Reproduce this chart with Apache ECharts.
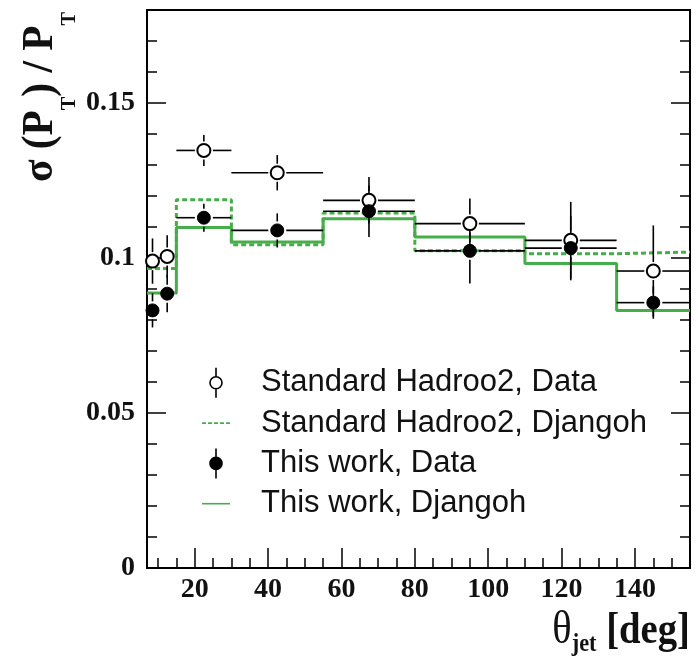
<!DOCTYPE html>
<html><head><meta charset="utf-8">
<script src="https://cdn.jsdelivr.net/npm/echarts@6/dist/echarts.min.js"></script>
<style>html,body{margin:0;padding:0;background:#fff}#c{width:698px;height:658px}</style>
</head><body><div id="c"></div>
<script>
// ---- data ----
const binEdges   = [7, 10, 15, 30, 55, 80, 110, 135, 155];
const binCenters = [8.5, 12.5, 22.5, 42.5, 67.5, 95, 122.5, 145];
const stdData    = [0.0990, 0.1005, 0.1347, 0.1275, 0.1186, 0.1111, 0.1057, 0.0958];
const stdErr     = [0.0073, 0.0068, 0.0050, 0.0057, 0.0075, 0.0081, 0.0124, 0.0147];
const twData     = [0.0831, 0.0885, 0.1130, 0.1089, 0.1151, 0.1023, 0.1032, 0.0856];
const twErr      = [0.0055, 0.0060, 0.0045, 0.0055, 0.0083, 0.0105, 0.0104, 0.0052];
const stdDjangoh = [0.0966, 0.0966, 0.1188, 0.1043, 0.1145, 0.1023, 0.1014, 0.1019];
const twDjangoh  = [0.0887, 0.0887, 0.1098, 0.1052, 0.1127, 0.1068, 0.0982, 0.0831];
const xMajorTicks = [20, 40, 60, 80, 100, 120, 140];
const xMinorTicks = [10, 15, 25, 30, 35, 45, 50, 55, 65, 70, 75, 85, 90, 95, 105, 110, 115, 125, 130, 135, 145, 150];
const yMajorTicks = [0, 0.05, 0.1, 0.15];
const yMinorTicks = [0.01, 0.02, 0.03, 0.04, 0.06, 0.07, 0.08, 0.09, 0.11, 0.12, 0.13, 0.14, 0.16, 0.17];
const names = ['Standard Hadroo2, Data', 'Standard Hadroo2, Djangoh', 'This work, Data', 'This work, Djangoh'];

const GREEN = '#46ad4a';
const chart = echarts.init(document.getElementById('c'), null, {renderer: 'canvas'});

function stepData(vals) {
  return binEdges.map((e, i) => [e, vals[Math.min(i, vals.length - 1)]]);
}
function errData(vals, errs) {
  return binCenters.map((x, i) => [x, vals[i], binEdges[i], binEdges[i + 1], errs[i]]);
}
function errRender(params, api) {
  const x = api.value(0), y = api.value(1);
  const xl = api.value(2), xh = api.value(3), e = api.value(4);
  const c = api.coord([x, y]);
  const pl = api.coord([xl, y]), ph = api.coord([xh, y]);
  const pt = api.coord([x, y + e]), pb = api.coord([x, y - e]);
  const g = 9;
  const st = {stroke: '#000', lineWidth: 1.6};
  const ch = [];
  if (c[0] - pl[0] > g) ch.push({type: 'line', shape: {x1: pl[0], y1: c[1], x2: c[0] - g, y2: c[1]}, style: st});
  if (ph[0] - c[0] > g) ch.push({type: 'line', shape: {x1: c[0] + g, y1: c[1], x2: ph[0], y2: c[1]}, style: st});
  if (c[1] - pt[1] > g) ch.push({type: 'line', shape: {x1: c[0], y1: pt[1], x2: c[0], y2: c[1] - g}, style: st});
  if (pb[1] - c[1] > g) ch.push({type: 'line', shape: {x1: c[0], y1: c[1] + g, x2: c[0], y2: pb[1]}, style: st});
  return {type: 'group', children: ch};
}

const tickLabel = {fontFamily: 'Liberation Serif', fontWeight: 'bold', fontSize: 28, color: '#111'};
const axLine = {show: true, lineStyle: {color: '#000', width: 2}};
function xAx(major) {
  return {
    type: 'value', min: 7, max: 155, position: 'bottom', gridIndex: 0,
    axisLine: major ? axLine : {show: false},
    axisTick: {show: true, inside: true, length: major ? 20 : 10, customValues: major ? xMajorTicks : xMinorTicks, lineStyle: {color: '#000', width: 1.5}},
    axisLabel: major ? Object.assign({show: true, margin: 8, customValues: xMajorTicks}, tickLabel) : {show: false},
    splitLine: {show: false}
  };
}
function yAx(major, pos) {
  const left = pos === 'left';
  return {
    type: 'value', min: 0, max: 0.18, position: pos, gridIndex: 0,
    axisLine: major ? axLine : {show: false},
    axisTick: {show: true, inside: true, length: major ? 19 : 10, customValues: major ? yMajorTicks : yMinorTicks, lineStyle: {color: '#000', width: 1.5}},
    axisLabel: (major && left) ? Object.assign({show: true, margin: 12, customValues: yMajorTicks}, tickLabel) : {show: false},
    splitLine: {show: false}
  };
}

const openIcon = 'path://M6.5,0L6.5,9M6.5,21L6.5,30M12.5,15A6,6,0,1,1,0.5,15A6,6,0,1,1,12.5,15Z';
const solidIcon = 'path://M0,0L28,0L28,1.6L0,1.6Z';
const dashIcon = 'path://M0,0h4v1.6h-4zM6,0h4v1.6h-4zM12,0h4v1.6h-4zM18,0h4v1.6h-4zM24,0h4v1.6h-4z';

chart.setOption({
  animation: false,
  backgroundColor: '#fff',
  grid: {left: 147, right: 8, top: 10, bottom: 90, show: true, borderColor: '#000', borderWidth: 2, backgroundColor: 'transparent'},
  xAxis: [xAx(true), xAx(false)],
  yAxis: [yAx(true, 'left'), yAx(false, 'left'), yAx(true, 'right'), yAx(false, 'right')],
  legend: {
    show: true, orient: 'vertical', left: 197, top: 362, itemWidth: 28, itemHeight: 30, itemGap: 9,
    textStyle: {fontFamily: 'Liberation Sans', fontSize: 31, color: '#111', lineHeight: 30, padding: [0, 0, 0, 26]},
    data: [
      {name: names[0], icon: openIcon, itemStyle: {color: '#fff', borderColor: '#000', borderWidth: 1.6}},
      {name: names[1], icon: dashIcon, itemStyle: {color: GREEN, borderWidth: 0}},
      {name: names[2], icon: openIcon, itemStyle: {color: '#000', borderColor: '#000', borderWidth: 1.6}},
      {name: names[3], icon: solidIcon, itemStyle: {color: GREEN, borderWidth: 0}}
    ]
  },
  series: [
    {name: names[1], type: 'line', step: 'end', showSymbol: false, symbol: 'none', z: 2,
     data: stepData(stdDjangoh), lineStyle: {color: GREEN, width: 3, type: [5, 3]}, itemStyle: {color: GREEN}},
    {name: names[3], type: 'line', step: 'end', showSymbol: false, symbol: 'none', z: 2,
     data: stepData(twDjangoh), lineStyle: {color: GREEN, width: 3}, itemStyle: {color: GREEN}},
    {name: 'err_std', type: 'custom', renderItem: errRender, data: errData(stdData, stdErr), encode: {x: 0, y: 1}, z: 3, silent: true},
    {name: 'err_tw', type: 'custom', renderItem: errRender, data: errData(twData, twErr), encode: {x: 0, y: 1}, z: 3, silent: true},
    {name: names[0], type: 'scatter', symbol: 'circle', symbolSize: 13, symbolKeepAspect: true, z: 4,
     data: binCenters.map((x, i) => [x, stdData[i]]),
     itemStyle: {color: '#fff', borderColor: '#000', borderWidth: 2, opacity: 1}},
    {name: names[2], type: 'scatter', symbol: 'circle', symbolSize: 13, symbolKeepAspect: true, z: 4,
     data: binCenters.map((x, i) => [x, twData[i]]),
     itemStyle: {color: '#000', borderColor: '#000', borderWidth: 1, opacity: 1}}
  ],
  graphic: [
    {type: 'text', x: 40, y: 97, rotation: Math.PI / 2, scaleX: 0.92, z: 10,
     style: {text: '{a|σ (P}{s|T}{a|) / P}{s|T}', align: 'center', verticalAlign: 'middle',
       rich: {
         a: {fontFamily: 'Liberation Serif', fontWeight: 'bold', fontSize: 45, lineHeight: 80, fill: '#111'},
         s: {fontFamily: 'Liberation Serif', fontWeight: 'bold', fontSize: 22, lineHeight: 24, verticalAlign: 'bottom', fill: '#111'}
       }}},
    {type: 'text', x: 690, y: 631, scaleX: 0.86, z: 10,
     style: {text: '{t|θ}{j|jet}{b| [deg]}', align: 'right', verticalAlign: 'middle',
       rich: {
         t: {fontFamily: 'Liberation Serif', fontSize: 47, lineHeight: 52, fill: '#111'},
         j: {fontFamily: 'Liberation Serif', fontWeight: 'bold', fontSize: 26, lineHeight: 26, verticalAlign: 'bottom', fill: '#111'},
         b: {fontFamily: 'Liberation Serif', fontWeight: 'bold', fontSize: 45, lineHeight: 52, fill: '#111'}
       }}}
  ]
});
</script></body></html>
